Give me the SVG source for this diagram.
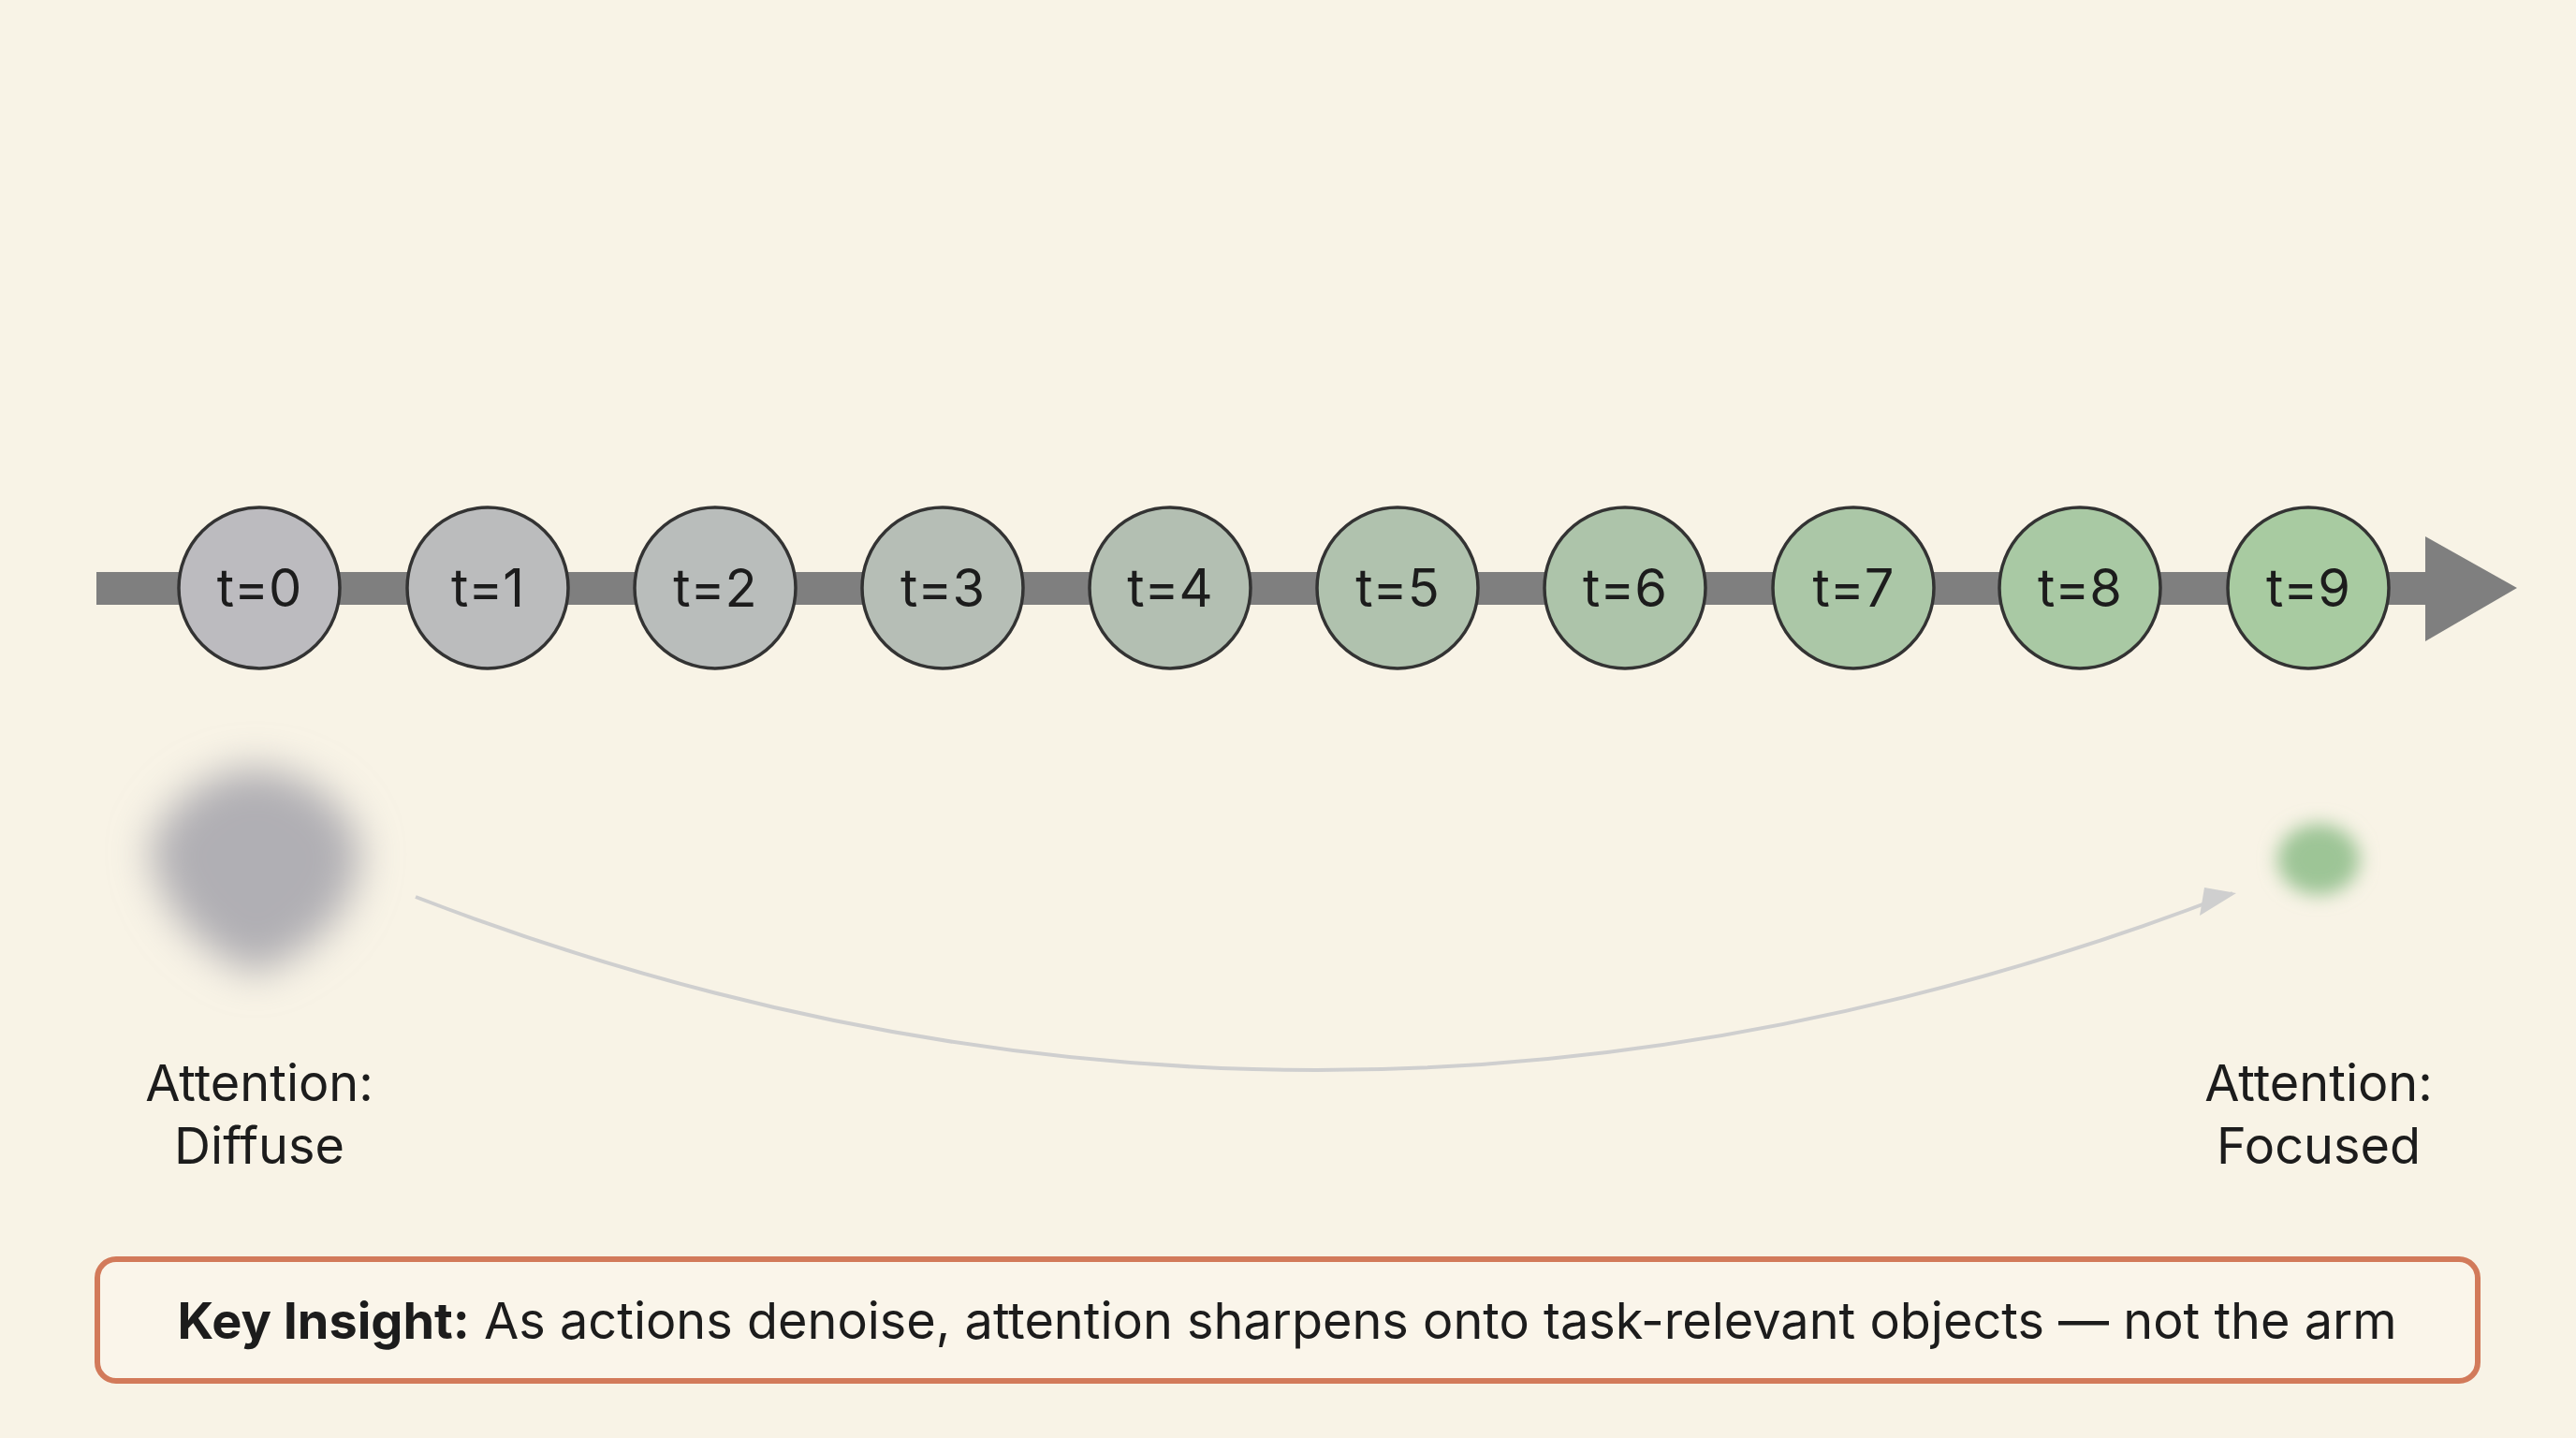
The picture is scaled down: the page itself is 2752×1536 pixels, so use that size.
<svg xmlns="http://www.w3.org/2000/svg" width="2752" height="1536" viewBox="0 0 2752 1536">
<style>
text{font-family:Inter,"Open Sans","Liberation Sans",sans-serif;fill:#1c1c1c}
.n circle{stroke:#333;stroke-width:3.5}
.n text{font-size:56px;text-anchor:middle;dominant-baseline:central}
.lbl{font-size:54px;text-anchor:middle}
</style>
<defs>
<filter id="b1" x="-1" y="-1" width="3" height="3"><feGaussianBlur stdDeviation="22"/></filter>
<filter id="b2" x="-1" y="-1" width="3" height="3"><feGaussianBlur stdDeviation="10"/></filter>
<marker id="ah" markerWidth="10" markerHeight="10" refX="8" refY="5" orient="auto" markerUnits="userSpaceOnUse" viewBox="0 0 10 10"><path d="M0,0 L10,5 L0,10 z" fill="#cfcfcf"/></marker>
</defs>
<rect width="2752" height="1536" fill="#f8f3e6"/>
<g id="timeline">
<rect x="103" y="611" width="2500" height="35" fill="#7f7f7f"/>
<polygon points="2591,573 2689,628 2591,685" fill="#7f7f7f"/>
</g>
<g id="connectors">
<path d="M444,958 Q1410,1330 2385,954" fill="none" stroke="#cfcfcf" stroke-width="4"/>
<polygon points="2389,954 2350,978 2355,948" fill="#cfcfcf"/>
</g>
<g id="t0" class="n"><circle cx="277" cy="628" r="86" fill="#bcbbbf"/><text x="277" y="628">t=0</text></g>
<g id="t1" class="n"><circle cx="521" cy="628" r="86" fill="#bbbcbd"/><text x="521" y="628">t=1</text></g>
<g id="t2" class="n"><circle cx="764" cy="628" r="86" fill="#b9bdbb"/><text x="764" y="628">t=2</text></g>
<g id="t3" class="n"><circle cx="1007" cy="628" r="86" fill="#b6beb6"/><text x="1007" y="628">t=3</text></g>
<g id="t4" class="n"><circle cx="1250" cy="628" r="86" fill="#b3bfb2"/><text x="1250" y="628">t=4</text></g>
<g id="t5" class="n"><circle cx="1493" cy="628" r="86" fill="#b0c2ae"/><text x="1493" y="628">t=5</text></g>
<g id="t6" class="n"><circle cx="1736" cy="628" r="86" fill="#adc4aa"/><text x="1736" y="628">t=6</text></g>
<g id="t7" class="n"><circle cx="1980" cy="628" r="86" fill="#abc7a7"/><text x="1980" y="628">t=7</text></g>
<g id="t8" class="n"><circle cx="2222" cy="628" r="86" fill="#a9c9a4"/><text x="2222" y="628">t=8</text></g>
<g id="t9" class="n"><circle cx="2466" cy="628" r="86" fill="#a8cba1"/><text x="2466" y="628">t=9</text></g>
<g id="diffuse">
<path d="M272,820 Q360,830 385,905 Q380,1000 272,1040 Q175,1000 160,905 Q190,830 272,820 z" fill="#b0afb4" filter="url(#b1)"/>
<text class="lbl" x="277" y="1176">Attention:</text>
<text class="lbl" x="277" y="1243">Diffuse</text>
</g>
<g id="focused">
<ellipse cx="2477" cy="918" rx="44" ry="38" fill="#9dc596" filter="url(#b2)"/>
<text class="lbl" x="2477" y="1176">Attention:</text>
<text class="lbl" x="2477" y="1243">Focused</text>
</g>
<g id="insight">
<rect x="104" y="1345" width="2543" height="130" rx="20" fill="#faf5ea" stroke="#d27a5a" stroke-width="6"/>
<text x="1375" y="1430" font-size="54" text-anchor="middle"><tspan font-weight="bold">Key Insight:</tspan> As actions denoise, attention sharpens onto task-relevant objects — not the arm</text>
</g>
</svg>
